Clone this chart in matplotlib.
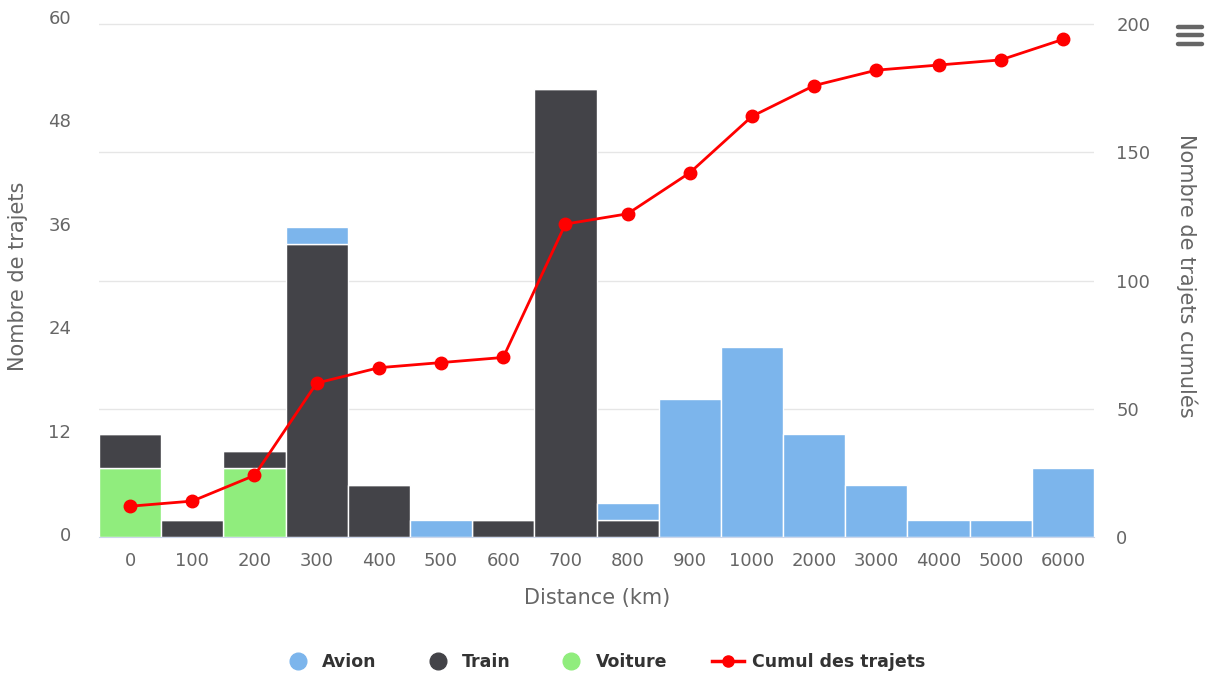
import matplotlib.pyplot as plt
import numpy as np
from matplotlib.lines import Line2D
from matplotlib.transforms import ScaledTranslation

plt.rcParams['font.family'] = ['DejaVu Sans']

categories = ['0', '100', '200', '300', '400', '500', '600', '700',
              '800', '900', '1000', '2000', '3000', '4000', '5000', '6000']
avion = [0, 0, 0, 2, 0, 2, 0, 0, 2, 16, 22, 12, 6, 2, 2, 8]
train = [4, 2, 2, 34, 6, 0, 2, 52, 2, 0, 0, 0, 0, 0, 0, 0]
voiture = [8, 0, 8, 0, 0, 0, 0, 0, 0, 0, 0, 0, 0, 0, 0, 0]
cumul = [12, 14, 24, 60, 66, 68, 70, 122, 126, 142, 164, 176, 182, 184, 186, 194]

c_avion = '#7cb5ec'
c_train = '#434348'
c_voiture = '#90ed7d'
c_cumul = '#ff0000'
grey = '#666666'

W, H = 1209, 674
fig = plt.figure(figsize=(W / 100, H / 100), dpi=100)
# plot area: x 99..1094 px, y 20..537 px
ax = fig.add_axes([99 / W, 1 - 537 / H, 995 / W, 517 / H])
ax2 = ax.twinx()

y2max = 200 * 517 / 513
right_ticks = [0, 50, 100, 150, 200]

# grid lines belong to the right axis, drawn under the bars
for g in right_ticks[1:]:
    ax.axhline(g * 60 / y2max, color='#e6e6e6', linewidth=1, zorder=0)

x = np.arange(len(categories))
v = np.array(voiture)
t = np.array(train)
a = np.array(avion)
ax.bar(x, v, width=1, color=c_voiture, edgecolor='white', linewidth=1, zorder=2)
ax.bar(x, t, width=1, bottom=v, color=c_train, edgecolor='white', linewidth=1, zorder=2)
ax.bar(x, a, width=1, bottom=v + t, color=c_avion, edgecolor='white', linewidth=1, zorder=2)

ax2.plot(x, cumul, color=c_cumul, linewidth=2, marker='o', markersize=9, zorder=3)

ax.set_xlim(-0.5, len(categories) - 0.5)
ax.set_ylim(0, 60)
ax2.set_ylim(0, y2max)
ax.set_yticks([0, 12, 24, 36, 48, 60])
ax2.set_yticks(right_ticks)
ax.set_xticks(x)
ax.set_xticklabels(categories)

for a_ in (ax, ax2):
    for s in a_.spines.values():
        s.set_visible(False)
ax.spines['bottom'].set_visible(True)
ax.spines['bottom'].set_color('#ccd6eb')
ax.tick_params(axis='x', length=0, pad=11, labelsize=13, labelcolor=grey)
ax.tick_params(axis='y', length=0, pad=20, labelsize=13, labelcolor=grey)
ax2.tick_params(axis='y', length=0, pad=16, labelsize=13, labelcolor=grey)
up = ScaledTranslation(0, 3 / 100, fig.dpi_scale_trans)
for lab in ax.get_yticklabels():
    lab.set_verticalalignment('center_baseline')
    lab.set_transform(lab.get_transform() + up)
for lab in ax2.get_yticklabels():
    lab.set_verticalalignment('center_baseline')

fig.text(597 / W, 1 - 598 / H, 'Distance (km)', fontsize=15, color=grey,
         ha='center', va='center')
fig.text(18 / W, 1 - 276 / H, 'Nombre de trajets', fontsize=15, color=grey,
         ha='center', va='center', rotation=90)
fig.text(1187 / W, 1 - 276 / H, 'Nombre de trajets cumulés', fontsize=15, color=grey,
         ha='center', va='center', rotation=270)

handles = [
    Line2D([], [], linestyle='none', marker='o', markersize=12, color=c_avion),
    Line2D([], [], linestyle='none', marker='o', markersize=12, color=c_train),
    Line2D([], [], linestyle='none', marker='o', markersize=12, color=c_voiture),
    Line2D([], [], color=c_cumul, linewidth=2.5, marker='o', markersize=8),
]
leg = fig.legend(handles, ['Avion', 'Train', 'Voiture', 'Cumul des trajets'],
                 loc='center', bbox_to_anchor=(604 / W, 1 - 662 / H), ncol=4, frameon=False,
                 prop={'weight': 'bold', 'size': 12.5}, handlelength=1.8,
                 columnspacing=2.6, handletextpad=0.5)
for txt in leg.get_texts():
    txt.set_color('#333333')

# menu icon
for yy in (27, 35, 44):
    fig.add_artist(Line2D([1178 / W, 1202 / W], [1 - yy / H, 1 - yy / H], color=grey,
                          linewidth=3.2, solid_capstyle='round', transform=fig.transFigure))

fig.savefig('out.png', dpi=100)
